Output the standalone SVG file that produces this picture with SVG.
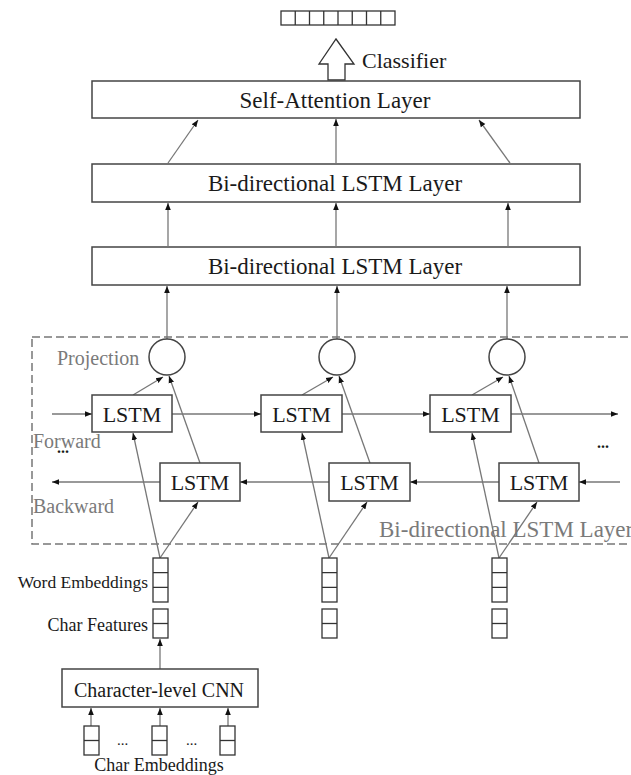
<svg xmlns="http://www.w3.org/2000/svg" width="631" height="775" viewBox="0 0 631 775">
<style>
.box{fill:#fff;stroke:#444;stroke-width:1.5}
.cell{fill:#fff;stroke:#333;stroke-width:1.3}
.ln{stroke:#777;stroke-width:1.3;fill:none}
.t{font-family:"Liberation Serif","Times New Roman",serif;fill:#1a1a1a}
.g{font-family:"Liberation Serif","Times New Roman",serif;fill:#7a7a7a}
</style>
<defs>
<marker id="ah" viewBox="0 0 10 10" refX="10" refY="5" markerWidth="7" markerHeight="7" markerUnits="userSpaceOnUse" orient="auto">
<path d="M0,1 L10,5 L0,9 z" fill="#111"/>
</marker>
</defs>
<rect width="631" height="775" fill="#fff"/>

<g id="output">
<rect class="cell" x="281" y="11" width="114" height="14"/>
<path class="cell" d="M295.25,11V25M309.5,11V25M323.75,11V25M338,11V25M352.25,11V25M366.5,11V25M380.75,11V25"/>
</g>
<g id="classifier">
<polygon points="336,39 354,64 345,64 345,80 328,80 328,64 319,64" fill="#fff" stroke="#333" stroke-width="1.3"/>
<text class="t" x="362" y="68" font-size="22">Classifier</text>
</g>

<g id="self-attention">
<rect class="box" x="92" y="81" width="488" height="37"/>
<text class="t" x="335" y="108" font-size="23" text-anchor="middle">Self-Attention Layer</text>
</g>
<g id="bilstm2">
<rect class="box" x="92" y="164" width="488" height="38"/>
<text class="t" x="335" y="191" font-size="23" text-anchor="middle">Bi-directional LSTM Layer</text>
</g>
<g id="bilstm1">
<rect class="box" x="92" y="247" width="488" height="38"/>
<text class="t" x="335" y="274" font-size="23" text-anchor="middle">Bi-directional LSTM Layer</text>
</g>

<g id="bilstm-frame">
<rect x="32" y="337" width="620" height="207" fill="none" stroke="#777" stroke-width="1.5" stroke-dasharray="8 4"/>
<text class="g" x="379" y="537" font-size="23">Bi-directional LSTM Layer</text>
<text class="g" x="57" y="365" font-size="20">Projection</text>
<text class="g" x="33" y="448" font-size="20">Forward</text>
<text class="g" x="33" y="513" font-size="20">Backward</text>
<text class="t" x="57" y="453" font-size="16" font-weight="bold">...</text>
<text class="t" x="597" y="448" font-size="16" font-weight="bold">...</text>
</g>

<g id="connectors">
<line class="ln" x1="168" y1="163" x2="198" y2="120" marker-end="url(#ah)"/>
<line class="ln" x1="336" y1="163" x2="336" y2="119" marker-end="url(#ah)"/>
<line class="ln" x1="510" y1="163" x2="479" y2="120" marker-end="url(#ah)"/>
<line class="ln" x1="168" y1="247" x2="168" y2="203" marker-end="url(#ah)"/>
<line class="ln" x1="336" y1="247" x2="336" y2="203" marker-end="url(#ah)"/>
<line class="ln" x1="508" y1="247" x2="508" y2="203" marker-end="url(#ah)"/>
<line class="ln" x1="167" y1="339" x2="167" y2="286" marker-end="url(#ah)"/>
<line class="ln" x1="337" y1="339" x2="337" y2="286" marker-end="url(#ah)"/>
<line class="ln" x1="507" y1="339" x2="507" y2="286" marker-end="url(#ah)"/>
<!-- forward chain -->
<line class="ln" x1="52" y1="414" x2="92" y2="414" marker-end="url(#ah)"/>
<line class="ln" x1="172" y1="414" x2="261" y2="414" marker-end="url(#ah)"/>
<line class="ln" x1="342" y1="414" x2="430" y2="414" marker-end="url(#ah)"/>
<line class="ln" x1="511" y1="414" x2="618" y2="414" marker-end="url(#ah)"/>
<!-- backward chain -->
<line class="ln" x1="620" y1="482" x2="579" y2="482" marker-end="url(#ah)"/>
<line class="ln" x1="499" y1="482" x2="410" y2="482" marker-end="url(#ah)"/>
<line class="ln" x1="329" y1="482" x2="240" y2="482" marker-end="url(#ah)"/>
<line class="ln" x1="160" y1="482" x2="52" y2="482" marker-end="url(#ah)"/>
<!-- LSTM to projection -->
<line class="ln" x1="133" y1="395" x2="163" y2="377" marker-end="url(#ah)"/>
<line class="ln" x1="200" y1="463" x2="169" y2="376" marker-end="url(#ah)"/>
<line class="ln" x1="302" y1="395" x2="333" y2="377" marker-end="url(#ah)"/>
<line class="ln" x1="370" y1="463" x2="339" y2="376" marker-end="url(#ah)"/>
<line class="ln" x1="472" y1="395" x2="503" y2="377" marker-end="url(#ah)"/>
<line class="ln" x1="539" y1="463" x2="509" y2="376" marker-end="url(#ah)"/>
<!-- embeddings to LSTMs -->
<line class="ln" x1="160" y1="558" x2="133" y2="433" marker-end="url(#ah)"/>
<line class="ln" x1="160" y1="558" x2="198" y2="502" marker-end="url(#ah)"/>
<line class="ln" x1="329" y1="558" x2="302" y2="433" marker-end="url(#ah)"/>
<line class="ln" x1="329" y1="558" x2="367" y2="502" marker-end="url(#ah)"/>
<line class="ln" x1="499" y1="558" x2="472" y2="433" marker-end="url(#ah)"/>
<line class="ln" x1="499" y1="558" x2="537" y2="502" marker-end="url(#ah)"/>
<!-- CNN -->
<line class="ln" x1="160" y1="669" x2="160" y2="639" marker-end="url(#ah)"/>
<line class="ln" x1="91" y1="726" x2="91" y2="708" marker-end="url(#ah)"/>
<line class="ln" x1="160" y1="726" x2="160" y2="708" marker-end="url(#ah)"/>
<line class="ln" x1="228" y1="726" x2="228" y2="708" marker-end="url(#ah)"/>
</g>

<g id="projection-1"><circle cx="167" cy="357" r="18" fill="#fff" stroke="#444" stroke-width="1.5"/></g>
<g id="projection-2"><circle cx="337" cy="357" r="18" fill="#fff" stroke="#444" stroke-width="1.5"/></g>
<g id="projection-3"><circle cx="507" cy="357" r="18" fill="#fff" stroke="#444" stroke-width="1.5"/></g>

<g id="lstm-f1"><rect class="box" x="92" y="395" width="80" height="37"/><text class="t" x="132" y="422" font-size="22" text-anchor="middle">LSTM</text></g>
<g id="lstm-f2"><rect class="box" x="261" y="395" width="81" height="37"/><text class="t" x="301.5" y="422" font-size="22" text-anchor="middle">LSTM</text></g>
<g id="lstm-f3"><rect class="box" x="430" y="395" width="81" height="37"/><text class="t" x="470.5" y="422" font-size="22" text-anchor="middle">LSTM</text></g>
<g id="lstm-b1"><rect class="box" x="160" y="463" width="80" height="38"/><text class="t" x="200" y="490" font-size="22" text-anchor="middle">LSTM</text></g>
<g id="lstm-b2"><rect class="box" x="329" y="463" width="81" height="38"/><text class="t" x="369.5" y="490" font-size="22" text-anchor="middle">LSTM</text></g>
<g id="lstm-b3"><rect class="box" x="499" y="463" width="80" height="38"/><text class="t" x="539" y="490" font-size="22" text-anchor="middle">LSTM</text></g>

<g id="word-emb-1"><rect class="cell" x="153" y="558" width="15" height="44"/><path class="cell" d="M153,572.7H168M153,587.3H168"/></g>
<g id="char-feat-1"><rect class="cell" x="153" y="609" width="15" height="29"/><path class="cell" d="M153,623.5H168"/></g>
<g id="word-emb-2"><rect class="cell" x="322" y="558" width="15" height="44"/><path class="cell" d="M322,572.7H337M322,587.3H337"/></g>
<g id="char-feat-2"><rect class="cell" x="322" y="609" width="15" height="29"/><path class="cell" d="M322,623.5H337"/></g>
<g id="word-emb-3"><rect class="cell" x="492" y="558" width="15" height="44"/><path class="cell" d="M492,572.7H507M492,587.3H507"/></g>
<g id="char-feat-3"><rect class="cell" x="492" y="609" width="15" height="29"/><path class="cell" d="M492,623.5H507"/></g>
<g id="labels">
<text class="t" x="148" y="588" font-size="17.5" text-anchor="end">Word Embeddings</text>
<text class="t" x="148" y="631" font-size="18" text-anchor="end">Char Features</text>
</g>

<g id="char-cnn"><rect class="box" x="62" y="669" width="196" height="38"/><text class="t" x="159" y="697" font-size="20" text-anchor="middle">Character-level CNN</text></g>

<g id="char-emb">
<rect class="cell" x="84" y="726" width="15" height="29"/><path class="cell" d="M84,740.5H99"/>
<rect class="cell" x="152" y="726" width="15" height="29"/><path class="cell" d="M152,740.5H167"/>
<rect class="cell" x="220" y="726" width="15" height="29"/><path class="cell" d="M220,740.5H235"/>
<text class="t" x="117" y="745" font-size="15">...</text>
<text class="t" x="186" y="745" font-size="15">...</text>
<text class="t" x="159" y="771" font-size="18" text-anchor="middle">Char Embeddings</text>
</g>
</svg>
